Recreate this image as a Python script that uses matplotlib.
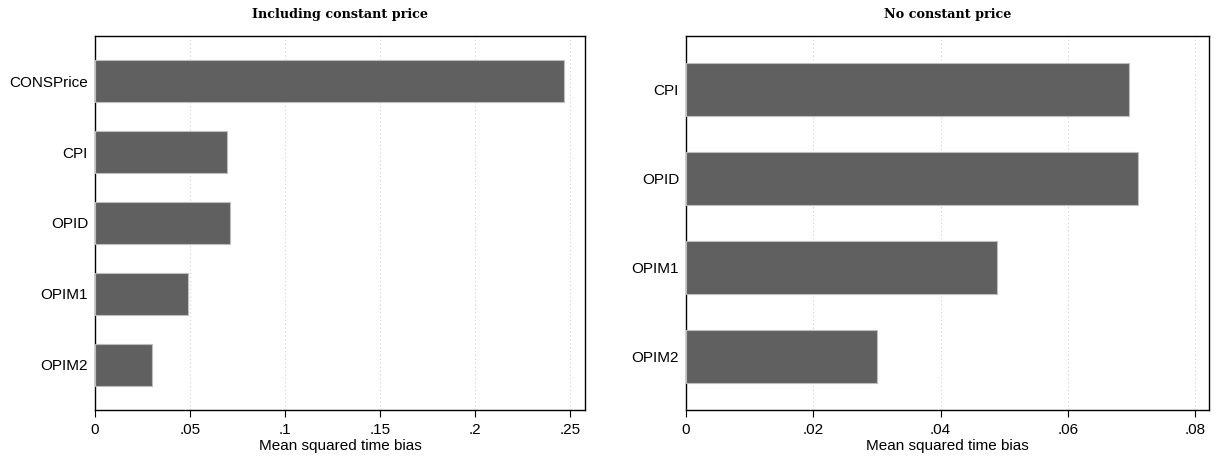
import matplotlib
matplotlib.use("Agg")
import matplotlib.pyplot as plt
import numpy as np

# values
labels_left = ["CONSPrice", "CPI", "OPID", "OPIM1", "OPIM2"]
bias_left = [0.2468, 0.0695, 0.0711, 0.0489, 0.0300]

labels_right = ["CPI", "OPID", "OPIM1", "OPIM2"]
bias_right = [0.0696, 0.0710, 0.0489, 0.0300]

ticks_left = [0, 0.05, 0.1, 0.15, 0.2, 0.25]
ticklabels_left = ["0", ".05", ".1", ".15", ".2", ".25"]
ticks_right = [0, 0.02, 0.04, 0.06, 0.08]
ticklabels_right = ["0", ".02", ".04", ".06", ".08"]

BAR = "#606060"
SANS = "Liberation Sans"
SERIF = "DejaVu Serif"

fig = plt.figure(figsize=(12.17, 4.58), dpi=100)
ax1 = fig.add_axes([95/1217, 48/458, 490/1217, 374/458])
ax2 = fig.add_axes([686/1217, 48/458, 523/1217, 374/458])


def panel(ax, labels, vals, ticks, ticklabels, xmax, pad, title):
    y = np.arange(len(labels))
    ax.barh(y, vals, height=0.6, color=BAR, edgecolor="#bdbdbd", linewidth=0.8, zorder=3)
    ax.set_ylim(len(labels) - 1 + pad, -pad)
    ax.set_xlim(0, xmax)
    ax.set_yticks(y)
    ax.set_yticklabels(labels, fontsize=11, family=SANS)
    ax.set_xticks(ticks)
    ax.set_xticklabels(ticklabels, fontsize=11, family=SANS)
    ax.tick_params(axis="y", length=0, pad=5)
    ax.tick_params(axis="x", length=5, width=0.8, pad=4)
    for t in ticks[1:]:
        ax.axvline(t, color="#d0d0d0", linestyle=(0, (1, 2.5)), linewidth=0.8, zorder=1)
    for s in ax.spines.values():
        s.set_linewidth(1.0)
        s.set_color("black")
    ax.set_xlabel("Mean squared time bias", fontsize=11, family=SANS, labelpad=2)
    ax.set_title(title, fontsize=9.2, family=SERIF, fontweight="bold", pad=13)


panel(ax1, labels_left, bias_left, ticks_left, ticklabels_left, 0.2579, 0.635,
      "Including constant price")
panel(ax2, labels_right, bias_right, ticks_right, ticklabels_right, 0.0822, 0.6,
      "No constant price")

fig.savefig("out.png", dpi=100)
